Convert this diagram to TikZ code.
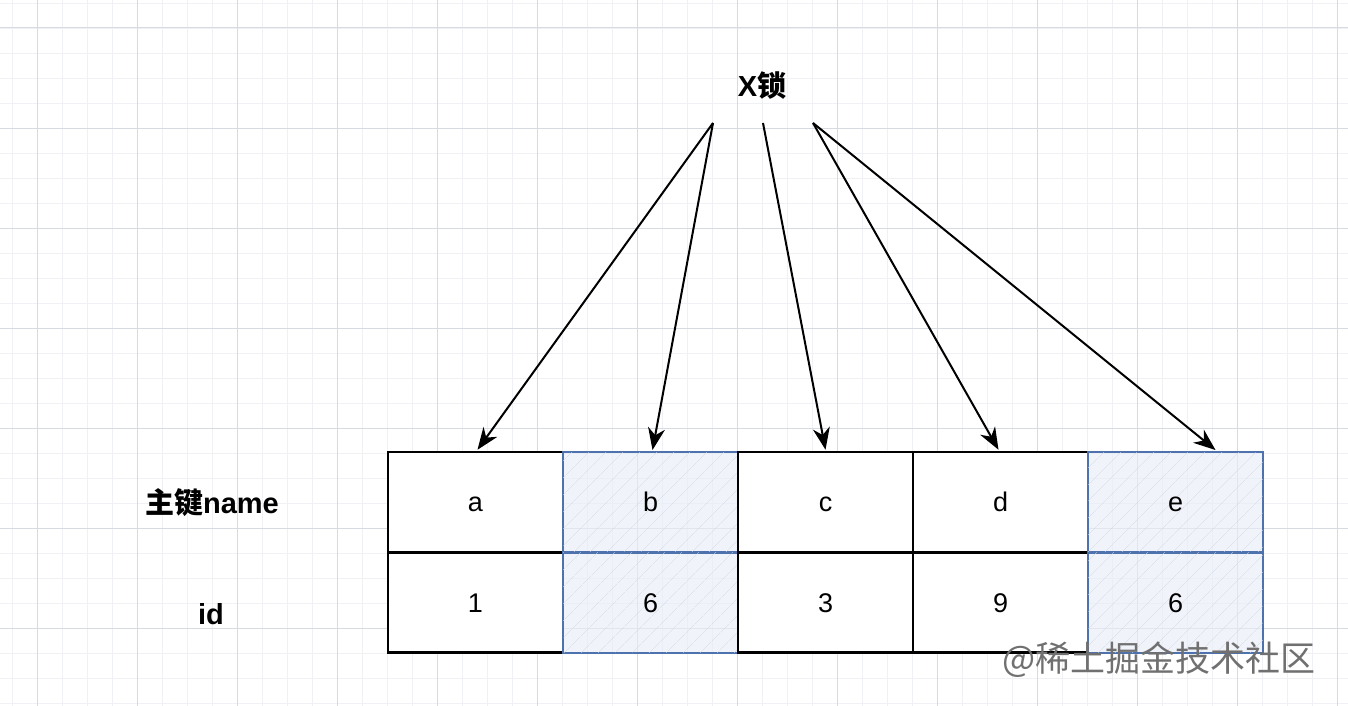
\documentclass[tikz,border=0pt]{standalone}
\usepackage{fontspec}
\setmainfont{Liberation Sans}
\newfontfamily\cjk{Noto Sans CJK SC}
\usetikzlibrary{arrows.meta,patterns.meta,calc}
\definecolor{gridminor}{HTML}{F0F1F5}
\definecolor{gridmajor}{HTML}{D8DAE1}
\definecolor{cellblue}{HTML}{4D72AE}
\definecolor{hatchfill}{HTML}{E6EDF8}
\definecolor{hatchcol}{HTML}{D2D7E0}
\definecolor{wmgray}{HTML}{707070}
\tikzset{
  cell/.style={draw=black, line width=2.5pt, fill=white, minimum width=175pt, minimum height=100pt, inner sep=0pt, text height=19pt, text depth=0pt, font=\fontsize{27}{30}\selectfont},
  hcell/.style={draw=cellblue, line width=2pt, fill=hatchfill, fill opacity=0.6, text opacity=1, minimum width=175pt, minimum height=100pt, inner sep=0pt, text height=19pt, text depth=0pt, font=\fontsize{27}{30}\selectfont,
    postaction={pattern={Lines[angle=45,distance=13pt,line width=0.6pt]}, pattern color=hatchcol}},
  lbl/.style={font=\fontsize{29}{32}\selectfont\bfseries, inner sep=0pt},
  arr/.style={line width=2pt, -{Stealth[length=22pt,width=17pt,inset=7pt]}},
  wm/.style={font=\cjk\fontsize{35}{38}\selectfont, text=wmgray, inner sep=0pt}
}
\begin{document}
\begin{tikzpicture}[x=1pt,y=-1pt]
\useasboundingbox (0,0) rectangle (1348,706);
\fill[white] (0,0) rectangle (1348,706);
% grid
\foreach \x in {12,37,...,1348} \draw[gridminor, line width=0.8pt] (\x,0) -- (\x,706);
\foreach \y in {3,28,...,706} \draw[gridminor, line width=0.8pt] (0,\y) -- (1348,\y);
\foreach \x in {37,137,...,1348} \draw[gridmajor, line width=1pt] (\x,0) -- (\x,706);
\foreach \y in {28,128,...,706} \draw[gridmajor, line width=1pt] (0,\y) -- (1348,\y);
% cells
\node[cell]  (a)  at (475.5,502) {a};
\node[cell]  (a1) at (475.5,602.5) {1};
\node[hcell] (b)  at (650.5,502) {b};
\node[hcell] (b1) at (650.5,602.5) {6};
\node[cell]  (c)  at (825.5,502) {c};
\node[cell]  (c1) at (825.5,602.5) {3};
\node[cell]  (d)  at (1000.5,502) {d};
\node[cell]  (d1) at (1000.5,602.5) {9};
\node[hcell] (e)  at (1175.5,502) {e};
\node[hcell] (e1) at (1175.5,602.5) {6};
% labels
\node[lbl] (pk) at (212,503) {{\cjk\bfseries 主键}name};
\node[lbl] (id) at (211,614) {id};
\node[lbl] (xl) at (762,86) {X{\cjk\bfseries 锁}};
% arrow sources
\coordinate (s1) at (713,123);
\coordinate (s2) at (763,123);
\coordinate (s3) at (813,123);
\draw[arr] (s1) -- ([xshift=2pt,yshift=1pt]a.north);
\draw[arr] (s1) -- ([xshift=2pt,yshift=1pt]b.north);
\draw[arr] (s2) -- ([yshift=1pt]c.north);
\draw[arr] (s3) -- ([xshift=-2pt,yshift=1pt]d.north);
\draw[arr] (s3) -- ([xshift=40pt,yshift=1pt]e.north);
% watermark
\node[wm, anchor=west] (wmark) at (1002,660) {@稀土掘金技术社区};
\end{tikzpicture}
\end{document}
